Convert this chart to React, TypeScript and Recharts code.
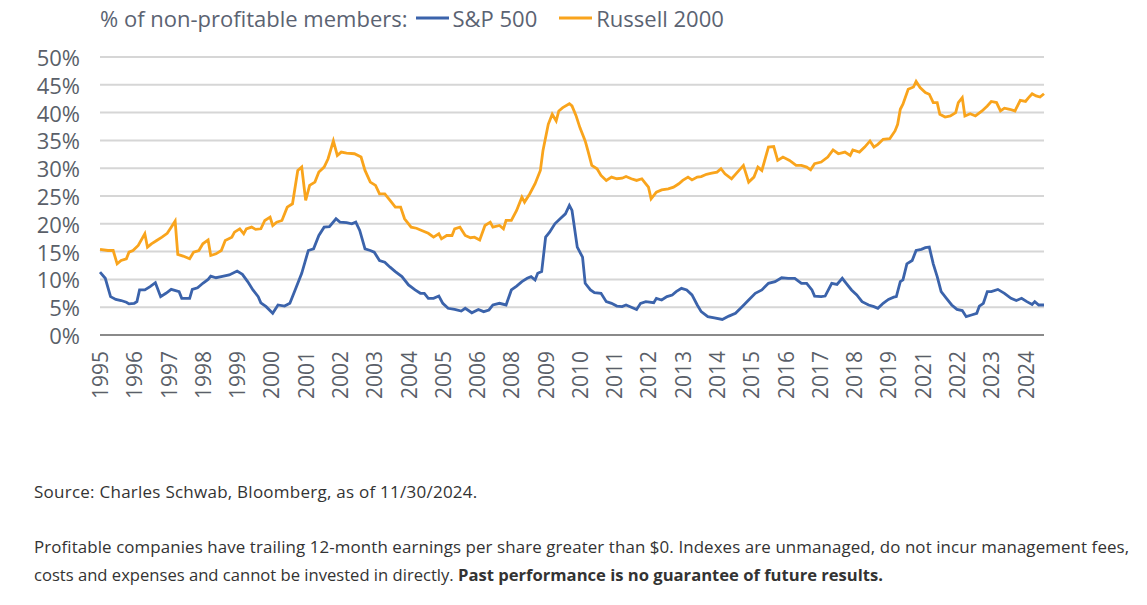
import { LineChart, Line, XAxis, YAxis, CartesianGrid } from 'recharts'

// month index counted from Jan 1995, value in % of non-profitable members
const START_YEAR = 1995
const LAST_MONTH = 358

const sp500: [number, number][] = [
  [0, 11.3], [2, 10.2], [4, 6.9], [6, 6.4], [8, 6.2], [10, 5.9], [11, 5.6], [13, 5.7], [14, 6.0],
  [15, 8.1], [17, 8.1], [19, 8.7], [21, 9.4], [23, 6.9], [25, 7.5], [27, 8.2], [30, 7.8], [31, 6.6],
  [34, 6.6], [35, 8.2], [37, 8.5], [39, 9.3], [41, 10.0], [42, 10.6], [44, 10.3], [46, 10.5],
  [49, 10.8], [52, 11.5], [54, 10.9], [56, 9.6], [58, 8.1], [60, 6.9], [61, 5.8], [63, 5.1],
  [65.5, 3.9], [67.5, 5.4], [70, 5.2], [72, 5.7], [74, 8.1], [76.5, 11.1], [79, 15.2], [81, 15.5],
  [83, 17.9], [85, 19.4], [87, 19.5], [89.5, 20.9], [91, 20.3], [93.5, 20.2], [95.5, 20.0],
  [97, 20.3], [98.5, 18.8], [100.5, 15.5], [102.5, 15.2], [104, 14.9], [106, 13.4], [108, 13.1],
  [110, 12.2], [112, 11.4], [114.5, 10.5], [117, 9.0], [119.5, 8.1], [121.5, 7.5], [123, 7.5],
  [124.5, 6.6], [126.5, 6.6], [128.5, 7.0], [130, 5.7], [132, 4.8], [134.5, 4.6], [137, 4.3],
  [138.5, 4.8], [141, 4.0], [143.5, 4.6], [145.5, 4.2], [147.5, 4.5], [149, 5.4], [151.5, 5.7],
  [154, 5.4], [156, 8.1], [158, 8.8], [160, 9.6], [162, 10.2], [163.5, 10.5], [165, 9.9],
  [166, 11.1], [167.5, 11.4], [169, 17.6], [170.5, 18.5], [172.5, 20.0], [174.5, 20.9],
  [176.5, 21.8], [178, 23.3], [179, 22.4], [181, 15.8], [183, 14.0], [184, 9.3], [186, 8.1],
  [187.5, 7.6], [190, 7.5], [192, 6.0], [194, 5.7], [196, 5.2], [198, 5.1], [199.5, 5.4],
  [201.5, 5.0], [203.5, 4.6], [205, 5.7], [207, 6.0], [210, 5.8], [211, 6.6], [213, 6.3],
  [215, 6.9], [217, 7.2], [218.5, 7.8], [220.5, 8.4], [222.5, 8.1], [224.5, 7.2], [226.5, 5.4],
  [228, 4.2], [230.5, 3.3], [233, 3.1], [236, 2.8], [238.5, 3.4], [241, 3.9], [243.5, 5.1],
  [246, 6.3], [248.5, 7.5], [251, 8.1], [253.5, 9.3], [256, 9.6], [258.5, 10.3], [261, 10.2],
  [263.5, 10.2], [266, 9.3], [268, 9.3], [270, 8.1], [271, 7.0], [273.5, 6.9], [275, 7.0],
  [277.5, 9.3], [279.5, 9.1], [281.5, 10.2], [283, 9.3], [285, 8.1], [287, 7.2], [289, 6.0],
  [291.5, 5.4], [293.5, 5.1], [295, 4.8], [297, 5.7], [299, 6.4], [301, 6.8], [302, 6.9],
  [303.5, 9.6], [304.5, 9.9], [306, 12.8], [308, 13.4], [309.5, 15.2], [311.5, 15.4],
  [313, 15.7], [314.5, 15.8], [316, 12.8], [317.5, 10.5], [319, 7.8], [321, 6.6], [323, 5.4],
  [325, 4.6], [327, 4.4], [328.5, 3.3], [330.5, 3.6], [332.5, 3.9], [333.5, 5.2], [335, 5.7],
  [336.5, 7.8], [338, 7.8], [340.5, 8.2], [343, 7.5], [345.5, 6.6], [347.5, 6.2], [349.5, 6.6],
  [351.5, 6.0], [353.5, 5.5], [354.5, 6.0], [356, 5.4], [358, 5.4],
]

const russell2000: [number, number][] = [
  [0, 15.4], [3, 15.2], [5, 15.2], [6.5, 12.8], [8, 13.4], [10, 13.7], [11, 14.9], [12.5, 15.2],
  [14.5, 16.1], [17, 18.2], [18, 15.8], [19.5, 16.4], [21.5, 17.0], [23.5, 17.6], [25.5, 18.3],
  [27, 19.4], [28.5, 20.5], [29.5, 14.5], [31.5, 14.2], [34, 13.7], [35.5, 14.9], [37.5, 15.2],
  [39, 16.4], [41, 17.1], [42, 14.3], [44, 14.6], [46, 15.2], [47.5, 17.0], [50, 17.6],
  [51, 18.5], [53, 19.1], [54.5, 18.2], [55.5, 19.1], [57.5, 19.4], [59, 19.0], [61, 19.1],
  [62.5, 20.6], [64.5, 21.2], [65.5, 19.7], [67, 20.3], [69, 20.6], [71, 23.0], [73, 23.6],
  [75, 29.6], [76.5, 30.2], [78, 24.2], [79.5, 26.9], [81.5, 27.5], [83, 29.3], [85, 30.2],
  [86.5, 31.7], [88.5, 34.9], [90, 32.3], [91.5, 32.9], [93.5, 32.7], [96.5, 32.6], [99, 32.0],
  [100.5, 29.6], [102.5, 27.5], [104.5, 26.9], [106, 25.4], [108, 25.4], [110, 24.2],
  [112, 23.0], [114, 23.0], [115.5, 20.9], [118, 19.4], [120, 19.2], [122, 18.8], [124.5, 18.3],
  [126.5, 17.6], [128.5, 18.2], [129.5, 17.3], [131.5, 17.9], [133.5, 17.9], [134.5, 19.1],
  [136.5, 19.4], [138.5, 17.9], [140.5, 17.5], [142, 17.6], [144, 17.1], [146, 19.7],
  [148, 20.3], [149, 19.4], [151.5, 19.7], [153, 19.1], [154, 20.6], [156, 20.6], [158, 22.4],
  [160, 24.8], [161, 23.9], [163, 25.4], [165, 27.2], [167, 29.6], [168, 33.2], [170, 37.9],
  [171.5, 39.7], [173, 38.5], [174, 40.3], [175.5, 40.9], [178, 41.6], [179, 41.2],
  [180.5, 39.5], [182, 37.3], [184, 34.9], [185, 33.2], [186.5, 30.5], [188.5, 29.9],
  [190, 28.7], [192, 27.8], [194, 28.4], [196, 28.1], [198, 28.2], [199.5, 28.5], [201.5, 28.1],
  [203.5, 27.8], [205.5, 28.1], [207, 27.2], [208, 26.6], [209, 24.5], [211, 25.7], [213, 26.1],
  [215.5, 26.3], [217.5, 26.6], [219.5, 27.2], [221, 27.8], [223, 28.4], [224.5, 27.9],
  [226.5, 28.4], [228, 28.5], [230, 28.9], [232, 29.1], [234, 29.3], [235.5, 29.9], [237, 29.0],
  [239.5, 28.1], [241, 28.9], [244, 30.5], [246, 27.5], [248, 28.4], [249.5, 30.2], [251, 29.6],
  [253.5, 33.8], [255.5, 33.9], [257, 31.4], [259, 32.0], [261.5, 31.4], [264, 30.5],
  [266, 30.5], [268, 30.2], [269.5, 29.7], [271, 30.8], [273.5, 31.1], [276, 32.0], [278, 33.3],
  [280, 32.6], [282.5, 32.9], [284.5, 32.3], [285.5, 33.3], [288, 32.9], [290, 33.8],
  [292, 34.9], [293.5, 33.8], [295, 34.3], [297, 35.2], [299.5, 35.3], [301.5, 36.7],
  [302.5, 37.9], [303.5, 40.6], [304.5, 41.5], [306.5, 44.2], [308.5, 44.6], [309.5, 45.6],
  [311, 44.5], [313, 43.6], [314.5, 43.3], [316, 41.8], [317.5, 41.8], [318.5, 39.7],
  [320.5, 39.2], [322.5, 39.4], [324.5, 40.0], [325.5, 41.8], [327, 42.7], [328, 39.4],
  [330, 39.8], [332, 39.4], [334.5, 40.3], [336.5, 41.2], [338, 42.0], [340, 41.8],
  [341.5, 40.3], [343, 40.8], [345, 40.6], [347, 40.3], [349, 42.2], [351, 42.0], [352, 42.6],
  [353.5, 43.4], [355, 43.0], [356.5, 42.8], [358, 43.4],
]

const yTicks = [0, 5, 10, 15, 20, 25, 30, 35, 40, 45, 50]
// labels sit every 13 months, as in the source (so 2007 and 2020 never show)
const xTicks = [0, 13, 26, 39, 52, 65, 78, 91, 104, 117, 130, 143, 156, 169, 182, 195, 208, 221,
  234, 247, 260, 273, 286, 299, 312, 325, 338, 351]

const BLUE = '#3b63ab'
const ORANGE = '#f9a41c'
const AXIS_TEXT = '#5a5f69'
const FONT = '"Open Sans", "Noto Sans", sans-serif'

const toRows = (pts: [number, number][]) => pts.map(([m, v]) => ({ m, v }))

function YearTick({ x, y, payload }: any) {
  return (
    <text
      transform={`translate(${x},${y + 14}) rotate(-90)`}
      textAnchor="end"
      dominantBaseline="central"
      fontSize={21}
      fill={AXIS_TEXT}
      fontFamily={FONT}
    >
      {START_YEAR + Math.floor(payload.value / 12)}
    </text>
  )
}

function PctTick({ y, payload }: any) {
  return (
    <text
      x={80}
      y={y}
      textAnchor="end"
      dominantBaseline="central"
      fontSize={22}
      fill={AXIS_TEXT}
      fontFamily={FONT}
    >
      {payload.value}%
    </text>
  )
}

function Swatch({ color, gap }: { color: string; gap: number }) {
  return (
    <svg width={33} height={4} style={{ margin: `0 4px 0 ${gap}px` }}>
      <line x1={0} y1={2} x2={33} y2={2} stroke={color} strokeWidth={3} />
    </svg>
  )
}

const footStyle = {
  position: 'absolute' as const,
  left: 34,
  fontFamily: FONT,
  fontSize: 17,
  lineHeight: '28px',
  color: '#333',
  whiteSpace: 'nowrap' as const,
}

export default function App() {
  return (
    <div style={{ position: 'absolute', left: 0, top: 0, width: 1147, height: 605, background: '#fff' }}>
      <div
        style={{
          position: 'absolute',
          left: 100,
          top: 3,
          display: 'flex',
          alignItems: 'center',
          fontFamily: FONT,
          fontSize: 22,
          color: '#5b6372',
          whiteSpace: 'nowrap',
        }}
      >
        <span>% of non-profitable members:</span>
        <Swatch color={BLUE} gap={8} />
        <span>S&amp;P 500</span>
        <Swatch color={ORANGE} gap={22} />
        <span>Russell 2000</span>
      </div>

      <div style={{ position: 'absolute', left: 0, top: 0 }}>
        <LineChart width={1147} height={420} margin={{ top: 57, right: 103, left: 0, bottom: 0 }}>
          <CartesianGrid vertical={false} stroke="#d6d6d6" strokeWidth={2} />
          <XAxis
            type="number"
            dataKey="m"
            domain={[0, LAST_MONTH]}
            ticks={xTicks}
            interval={0}
            height={85}
            tickLine={false}
            tickSize={0}
            axisLine={{ stroke: '#8a8a8a', strokeWidth: 2 }}
            tick={<YearTick />}
          />
          <YAxis
            type="number"
            domain={[0, 50]}
            ticks={yTicks}
            width={100}
            tickLine={false}
            axisLine={false}
            tickSize={0}
            tick={<PctTick />}
          />
          <Line
            data={toRows(sp500)}
            dataKey="v"
            type="linear"
            stroke={BLUE}
            strokeWidth={2.8}
            dot={false}
            activeDot={false}
            isAnimationActive={false}
          />
          <Line
            data={toRows(russell2000)}
            dataKey="v"
            type="linear"
            stroke={ORANGE}
            strokeWidth={2.8}
            dot={false}
            activeDot={false}
            isAnimationActive={false}
          />
        </LineChart>
      </div>

      <div style={{ ...footStyle, top: 478, letterSpacing: '0.25px' }}>
        Source: Charles Schwab, Bloomberg, as of 11/30/2024.
      </div>
      <div style={{ ...footStyle, top: 533, fontSize: 16.9, letterSpacing: '0.1px' }}>
        Profitable companies have trailing 12-month earnings per share greater than $0. Indexes are unmanaged, do not incur management fees,
      </div>
      <div style={{ ...footStyle, top: 561, fontSize: 16.6 }}>
        costs and expenses and cannot be invested in directly. <b>Past performance is no guarantee of future results.</b>
      </div>
    </div>
  )
}
